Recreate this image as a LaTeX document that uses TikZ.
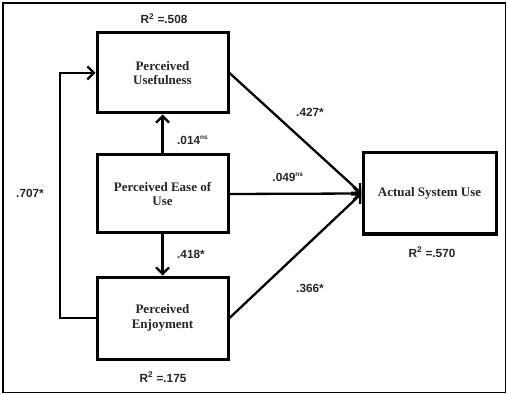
\documentclass[tikz,border=0pt]{standalone}
\usepackage{fontspec}
\setmainfont{Liberation Serif}
\newfontfamily\labfont{Liberation Sans}
\usetikzlibrary{arrows.meta}
\tikzset{
  box/.style={draw, line width=3pt, minimum width=131pt, inner sep=0pt, align=center,
    font=\fontsize{13}{14.5}\selectfont\bfseries, text=black!85},
  path/.style={line width=2.3pt, -{Straight Barb[length=6.5pt,width=13pt,line width=2.3pt]}},
  plain/.style={line width=2.3pt},
  coef/.style={font=\labfont\fontsize{11.8}{12}\selectfont\bfseries, text=black!85, inner sep=0pt},
}
\newcommand{\nsup}{\textsuperscript{\fontsize{6.5}{6.5}\selectfont ns}}
\begin{document}
\begin{tikzpicture}[x=1pt,y=-1pt]
\useasboundingbox (0,0) rectangle (508,395);
\draw[line width=1.2pt] (3,3) rectangle (505.5,392.5);
\node[box, minimum height=80pt] (pu) at (162.5,73) {Perceived\\Usefulness};
\node[box, minimum height=78pt] (peu) at (162.5,194) {Perceived Ease of\\Use};
\node[box, minimum height=82pt] (pe) at (162.5,318) {Perceived\\Enjoyment};
\node[box, minimum width=133pt, minimum height=81pt] (asu) at (429.5,193.5) {Actual System Use};
\draw[path] (peu.north) -- (pu.south);
\draw[path] (peu.south) -- (pe.north);
\draw[path] (pu.east) -- (asu.west);
\draw[path] (peu.east) -- (asu.west);
\draw[path] (pe.east) -- (asu.west);
\coordinate (fb) at (59,318);
\draw[plain] (pe.west) -- (fb);
\draw[path] ([xshift=1.15pt]fb) |- (pu.west);
\node[coef] (r1) at (164,19) {R\textsuperscript{2} =.508};
\node[coef] (r2) at (163,377) {R\textsuperscript{2} =.175};
\node[coef] (r3) at (432,252) {R\textsuperscript{2} =.570};
\node[coef, anchor=west] (c1) at (177,140) {.014\nsup};
\node[coef, anchor=west] (c2) at (177,254) {.418*};
\node[coef] (c3) at (310,112) {.427*};
\node[coef] (c4) at (288,177) {.049\nsup};
\node[coef] (c5) at (310,288) {.366*};
\node[coef] (c6) at (30,193) {.707*};
\end{tikzpicture}
\end{document}
